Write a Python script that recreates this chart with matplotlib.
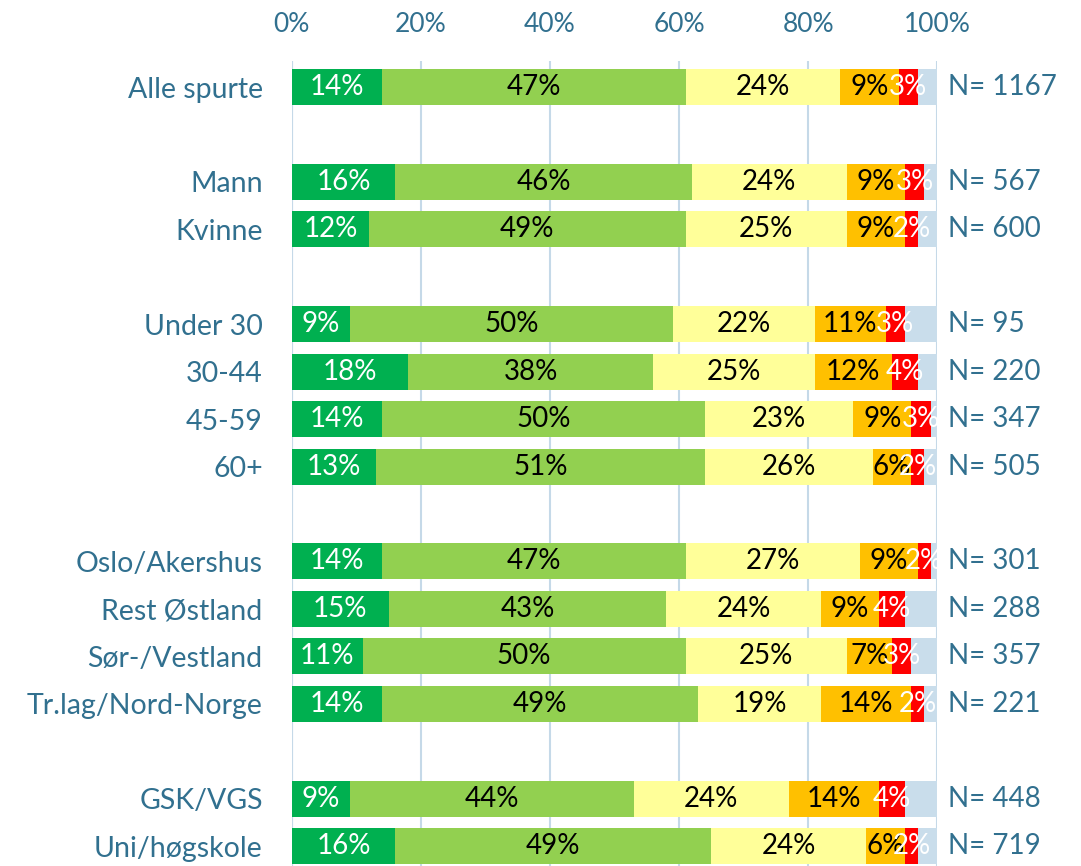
import numpy as np
import matplotlib
matplotlib.use('AGG')
import matplotlib.pyplot as plt

# row labels and their slot on the y axis (empty slots are the gaps)
groups = ['Alle spurte', 'Mann', 'Kvinne', 'Under 30', '30-44', '45-59', '60+',
          'Oslo/Akershus', 'Rest Østland', 'Sør-/Vestland', 'Tr.lag/Nord-Norge',
          'GSK/VGS', 'Uni/høgskole']
slots = [0, 2, 3, 5, 6, 7, 8, 10, 11, 12, 13, 15, 16]
n_values = [1167, 567, 600, 95, 220, 347, 505, 301, 288, 357, 221, 448, 719]

# shares in percent
dark_green = [14, 16, 12, 9, 18, 14, 13, 14, 15, 11, 14, 9, 16]
light_green = [47, 46, 49, 50, 38, 50, 51, 47, 43, 50, 49, 44, 49]
yellow = [24, 24, 25, 22, 25, 23, 26, 27, 24, 25, 19, 24, 24]
orange = [9, 9, 9, 11, 12, 9, 6, 9, 9, 7, 14, 14, 6]
red = [3, 3, 2, 3, 4, 3, 2, 2, 4, 3, 2, 4, 2]
unknown = [3, 2, 3, 5, 3, 1, 2, 1, 5, 4, 2, 5, 3]

series = [dark_green, light_green, yellow, orange, red, unknown]
colors = ['#00B050', '#92D050', '#FFFF99', '#FFC000', '#FF0000', '#C9DDEB']
text_colors = ['white', 'black', 'black', 'black', 'white', None]

label_color = '#31708F'
grid_color = '#C5D9E8'
font = 'Lato'

figure = plt.figure(figsize=(10.81, 8.66), dpi=100)
axis = figure.add_axes([0.270, 0.0, 0.597, 0.9296])

y = np.array(slots)
left = np.zeros(len(groups))
for values, color, tcolor in zip(series, colors, text_colors):
    values = np.array(values, dtype=float)
    axis.barh(y, values, left=left, height=0.76, color=color, zorder=2)
    if tcolor is not None:
        for yi, l, v in zip(y, left, values):
            axis.text(l + v / 2, yi, '%d%%' % v, ha='center', va='center',
                      color=tcolor, fontsize=20, family=font, zorder=3)
    left += values

for yi, n in zip(y, n_values):
    axis.text(101.7, yi, 'N= %d' % n, ha='left', va='center',
              color=label_color, fontsize=20, family=font, clip_on=False)

axis.set_xlim(0, 100)
axis.set_ylim(16.42, -0.55)
axis.set_xticks(np.arange(0, 101, 20))
axis.set_xticklabels(['%d%%' % t for t in range(0, 101, 20)])
axis.xaxis.tick_top()
axis.set_yticks(y)
axis.set_yticklabels(groups)
axis.tick_params(axis='both', length=0, labelcolor=label_color)
axis.tick_params(axis='x', pad=17, labelsize=19)
axis.tick_params(axis='y', pad=21, labelsize=20.5)
for lab in axis.get_xticklabels() + axis.get_yticklabels():
    lab.set_family(font)

axis.grid(axis='x', color=grid_color, linewidth=1.5, zorder=0)
axis.set_axisbelow(True)
for spine in axis.spines.values():
    spine.set_visible(False)
axis.axvline(0, color=grid_color, linewidth=1.5, zorder=1)

figure.savefig('out.png', dpi=100)
